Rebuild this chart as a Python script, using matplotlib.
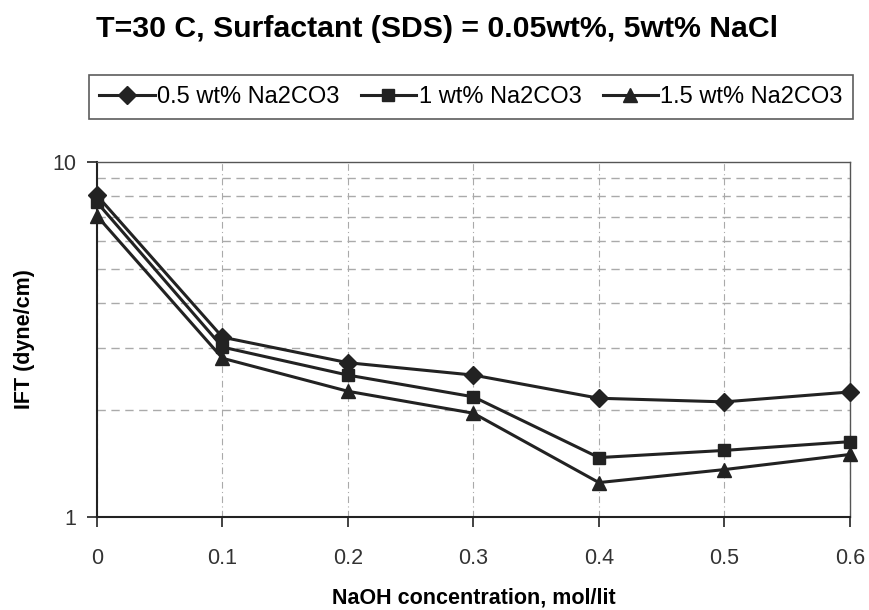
import numpy as np
import matplotlib
matplotlib.use("Agg")
import matplotlib.pyplot as plt
from matplotlib.ticker import FixedLocator, FixedFormatter, NullFormatter

# NaOH concentration, mol/lit
naoh = [0.0, 0.1, 0.2, 0.3, 0.4, 0.5, 0.6]

# IFT (dyne/cm) for each Na2CO3 level
ift_05 = [8.05, 3.21, 2.72, 2.51, 2.16, 2.11, 2.25]
ift_10 = [7.70, 3.01, 2.51, 2.18, 1.47, 1.54, 1.63]
ift_15 = [7.05, 2.80, 2.26, 1.96, 1.25, 1.36, 1.50]

labels = ["0.5 wt% Na2CO3", "1 wt% Na2CO3", "1.5 wt% Na2CO3"]
x_ticks = [0, 0.1, 0.2, 0.3, 0.4, 0.5, 0.6]
x_ticklabels = ["0", "0.1", "0.2", "0.3", "0.4", "0.5", "0.6"]

plt.rcParams["font.family"] = ["Liberation Sans", "DejaVu Sans"]

fig = plt.figure(figsize=(8.69, 6.10), dpi=100)
ax = fig.add_axes([0.1116, 0.1525, 0.8664, 0.5819])

ink = "#222222"
styles = [("D", 9), ("s", 9), ("^", 10)]
handles = []
for vals, (mk, ms), lab in zip([ift_05, ift_10, ift_15], styles, labels):
    h, = ax.plot(naoh, vals, color=ink, lw=2.2, marker=mk, ms=ms,
                 markerfacecolor=ink, markeredgecolor=ink, label=lab,
                 clip_on=False, zorder=3)
    handles.append(h)

ax.set_yscale("log")
ax.set_ylim(1, 10)
ax.set_xlim(0, 0.6)

ax.yaxis.set_major_locator(FixedLocator([1, 10]))
ax.yaxis.set_major_formatter(FixedFormatter(["1", "10"]))
ax.yaxis.set_minor_locator(FixedLocator([2, 3, 4, 5, 6, 7, 8, 9]))
ax.yaxis.set_minor_formatter(NullFormatter())
ax.set_xticks(x_ticks)
ax.set_xticklabels(x_ticklabels)

ax.grid(axis="y", which="minor", color="#aaaaaa", ls=(0, (6, 4)), lw=1)
ax.grid(axis="x", which="major", color="#aaaaaa", ls=(0, (6, 3, 1, 3)), lw=0.8)
ax.tick_params(axis="y", which="minor", length=0)
ax.tick_params(axis="both", which="major", direction="out", length=7,
               width=1.2, color=ink, labelsize=15.5, labelcolor="#333333")
ax.tick_params(axis="x", which="major", pad=15)
ax.tick_params(axis="y", which="major", pad=8)

for sp in ax.spines.values():
    sp.set_color(ink)
    sp.set_linewidth(1.5)
for side in ("top", "right"):
    ax.spines[side].set_color("#555555")
    ax.spines[side].set_linewidth(1.0)

ax.set_xlabel("NaOH concentration, mol/lit", fontsize=15.5, fontweight="bold",
              labelpad=14)
ax.set_ylabel("IFT (dyne/cm)", fontsize=15.5, fontweight="bold", labelpad=12)

fig.text(0.503, 0.953, "T=30 C, Surfactant (SDS) = 0.05wt%, 5wt% NaCl",
         ha="center", va="center", fontsize=21.8, fontweight="bold")

leg = fig.legend(handles=handles, labels=labels, loc="center",
                 bbox_to_anchor=(0.542, 0.841), ncol=3, frameon=True,
                 fancybox=False, edgecolor="#333333", fontsize=17,
                 handlelength=2.35, handletextpad=0.1, columnspacing=0.9,
                 borderpad=0.45)
leg.get_frame().set_linewidth(1.2)

fig.savefig("out.png", dpi=100)
